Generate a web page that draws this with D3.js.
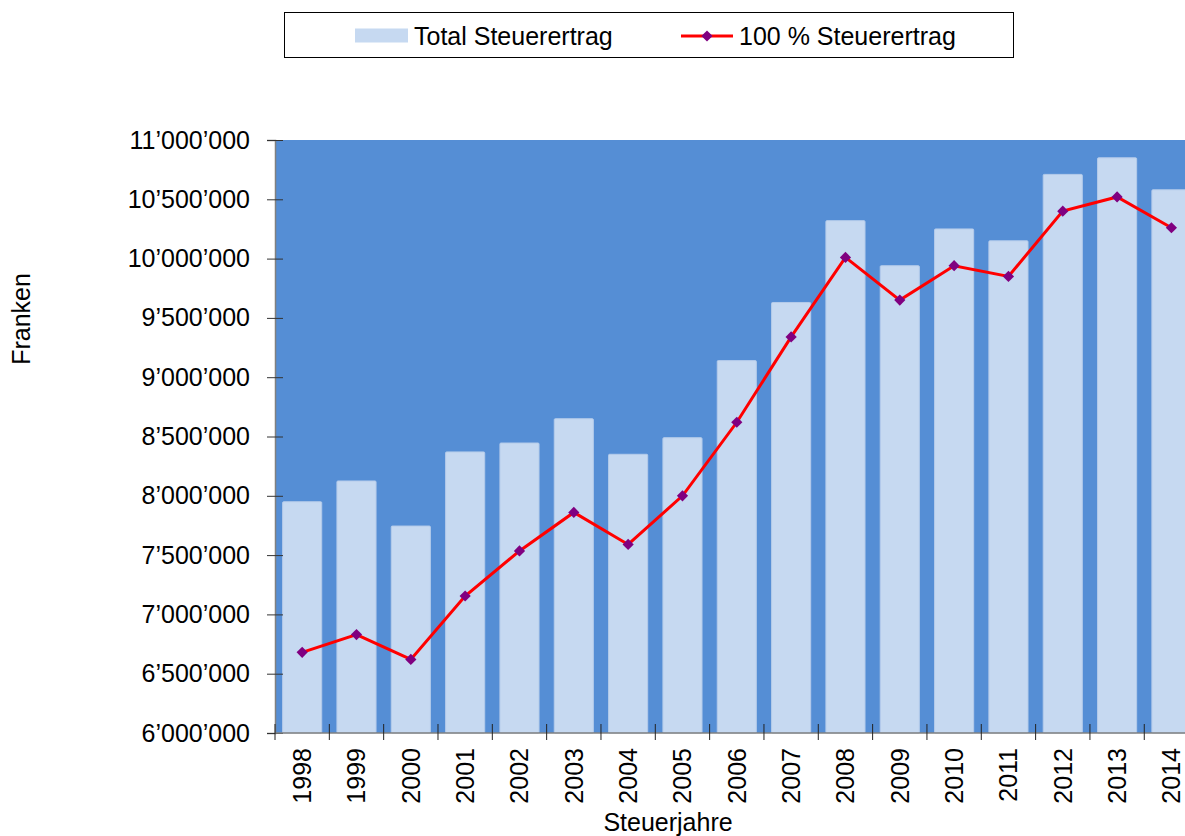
<!DOCTYPE html>
<html>
<head>
<meta charset="utf-8">
<script src="https://cdn.jsdelivr.net/npm/d3@7"></script>
<style>
  body { margin: 0; background: #fff; }
  svg { display: block; font-family: "Liberation Sans", Arial, sans-serif; }
</style>
</head>
<body>
<svg id="chart"></svg>
<script>
/////////////// data ////////////////
const YEARS = ["1998", "1999", "2000", "2001", "2002", "2003", "2004", "2005", "2006",
    "2007", "2008", "2009", "2010", "2011", "2012", "2013", "2014"];
// total tax revenue (bars)
const TOTAL = [7950000, 8125000, 7745000, 8370000, 8445000, 8650000, 8350000, 8490000, 9140000,
    9630000, 10320000, 9940000, 10250000, 10150000, 10710000, 10850000, 10580000];
// 100 % tax revenue (line)
const HUNDRED = [6680000, 6830000, 6620000, 7155000, 7535000, 7860000, 7590000, 8000000, 8620000,
    9340000, 10010000, 9650000, 9940000, 9850000, 10400000, 10520000, 10260000];
const Y_TICKS = [6000000, 6500000, 7000000, 7500000, 8000000, 8500000, 9000000, 9500000,
    10000000, 10500000, 11000000];

/////////////// layout ////////////////
const W = 1185;
const H = 836;
const PLOT_L = 275;
const PLOT_R = 1198.6;
const PLOT_T = 140;
const PLOT_B = 733;
const BG_FILL = "#558ED5";
const BAR_FILL = "#C6D9F1";
const LINE_COL = "#FF0000";
const MARK_COL = "#800080";
const FONT_SZ = 25;
const MARK_SZ = 80;

const SVG = d3.select("#chart")
    .attr("width", W)
    .attr("height", H);

const SCL_X = d3.scaleBand()
    .domain(YEARS)
    .range([PLOT_L, PLOT_R])
    .paddingInner(0.28)
    .paddingOuter(0.14);
const SCL_Y = d3.scaleLinear()
    .domain([6000000, 11000000])
    .range([PLOT_B, PLOT_T]);

// apostrophe thousand separator
const FMT = d => d3.format(",")(d).replace(/,/g, "\u2019");

// plot background
SVG.append("rect")
    .attr("x", PLOT_L)
    .attr("y", PLOT_T)
    .attr("width", PLOT_R - PLOT_L)
    .attr("height", PLOT_B - PLOT_T)
    .attr("fill", BG_FILL);

// bars
SVG.append("g")
    .selectAll("rect")
    .data(YEARS)
    .enter()
    .append("rect")
    .attr("x", d => SCL_X(d))
    .attr("y", (d, i) => SCL_Y(TOTAL[i]))
    .attr("width", SCL_X.bandwidth())
    .attr("height", (d, i) => PLOT_B - SCL_Y(TOTAL[i]))
    .attr("rx", 1)
    .attr("fill", BAR_FILL)
    .attr("stroke", "#B4CBEA")
    .attr("stroke-width", 1);

// y axis
const Y_AXIS = SVG.append("g")
    .attr("transform", `translate(${PLOT_L}, 0)`)
    .call(d3.axisLeft(SCL_Y).tickValues(Y_TICKS).tickFormat(FMT).tickSize(8).tickPadding(17));
Y_AXIS.select(".domain").attr("stroke", "#808080").attr("stroke-width", 1.5);
Y_AXIS.selectAll(".tick line")
    .attr("x2", -8)
    .attr("x1", 8)
    .attr("stroke", "#333");
Y_AXIS.selectAll(".tick text")
    .attr("font-size", FONT_SZ)
    .attr("fill", "#000")
    .attr("font-family", "Liberation Sans, Arial, sans-serif");

// x axis
const X_GRP = SVG.append("g")
    .attr("transform", `translate(0, ${PLOT_B})`);
X_GRP.append("line")
    .attr("x1", PLOT_L)
    .attr("x2", PLOT_R)
    .attr("stroke", "#808080")
    .attr("stroke-width", 1.5);
const STEP = SCL_X.step();
X_GRP.selectAll("line.tk")
    .data(d3.range(YEARS.length + 1))
    .enter()
    .append("line")
    .attr("class", "tk")
    .attr("x1", i => PLOT_L + i * STEP)
    .attr("x2", i => PLOT_L + i * STEP)
    .attr("y1", -9)
    .attr("y2", 7)
    .attr("stroke", "#222");
X_GRP.selectAll("text")
    .data(YEARS)
    .enter()
    .append("text")
    .attr("transform", d => `translate(${SCL_X(d) + SCL_X.bandwidth() / 2 + 9}, 15) rotate(-90)`)
    .attr("text-anchor", "end")
    .attr("font-size", FONT_SZ)
    .text(d => d);

// line series
const LINE = d3.line()
    .x((d, i) => SCL_X(YEARS[i]) + SCL_X.bandwidth() / 2)
    .y(d => SCL_Y(d));
SVG.append("path")
    .datum(HUNDRED)
    .attr("d", LINE)
    .attr("fill", "none")
    .attr("stroke", LINE_COL)
    .attr("stroke-width", 3);
SVG.append("g")
    .selectAll("path")
    .data(HUNDRED)
    .enter()
    .append("path")
    .attr("d", d3.symbol().type(d3.symbolDiamond2).size(MARK_SZ))
    .attr("transform", (d, i) => `translate(${SCL_X(YEARS[i]) + SCL_X.bandwidth() / 2}, ${SCL_Y(d)})`)
    .attr("fill", MARK_COL);

// axis titles
SVG.append("text")
    .attr("x", 668)
    .attr("y", 831)
    .attr("text-anchor", "middle")
    .attr("font-size", FONT_SZ)
    .text("Steuerjahre");
SVG.append("text")
    .attr("transform", "translate(30, 319) rotate(-90)")
    .attr("text-anchor", "middle")
    .attr("font-size", FONT_SZ)
    .text("Franken");

///////////////// legend ////////////////
const LEG = SVG.append("g");
LEG.append("rect")
    .attr("x", 284.5)
    .attr("y", 12.5)
    .attr("width", 729)
    .attr("height", 45)
    .attr("fill", "#fff")
    .attr("stroke", "#000")
    .attr("stroke-width", 1);
LEG.append("rect")
    .attr("x", 355)
    .attr("y", 28.5)
    .attr("width", 53)
    .attr("height", 14)
    .attr("fill", BAR_FILL);
LEG.append("text")
    .attr("x", 414)
    .attr("y", 45)
    .attr("font-size", FONT_SZ)
    .text("Total Steuerertrag");
LEG.append("line")
    .attr("x1", 681)
    .attr("x2", 733)
    .attr("y1", 36)
    .attr("y2", 36)
    .attr("stroke", LINE_COL)
    .attr("stroke-width", 3);
LEG.append("path")
    .attr("d", d3.symbol().type(d3.symbolDiamond2).size(MARK_SZ))
    .attr("transform", "translate(707, 36)")
    .attr("fill", MARK_COL);
LEG.append("text")
    .attr("x", 739)
    .attr("y", 45)
    .attr("font-size", FONT_SZ)
    .text("100 % Steuerertrag");
</script>
</body>
</html>
